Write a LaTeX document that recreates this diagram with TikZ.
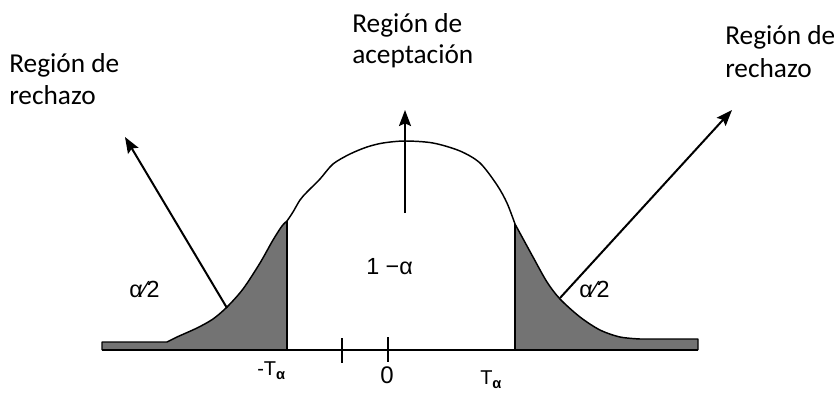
\documentclass[tikz,border=0pt]{standalone}
\usepackage{fontspec}
\setmainfont{Carlito}
\newfontfamily\arialf{Liberation Sans}
\usetikzlibrary{arrows.meta}
\begin{document}
\begin{tikzpicture}[x=0.75pt,y=-0.75pt,
  lbl/.style={font=\fontsize{20.5}{24}\selectfont, anchor=base west, inner sep=0pt},
  glbl/.style={font=\arialf\fontsize{17.5}{20}\selectfont, anchor=base west, inner sep=0pt},
  axlbl/.style={font=\arialf\fontsize{15}{17}\selectfont, anchor=base west, inner sep=0pt},
  arr/.style={line width=1.5pt, -{Stealth[length=12pt,width=9pt,inset=2pt]}},
  curveline/.style={line width=1.1pt, line join=round},
  tailfill/.style={fill=black!55},
  cutline/.style={line width=1.5pt},
]
\useasboundingbox (0,0) rectangle (834,393);
% shaded tails
\fill[tailfill] (102,350) -- (102,342) -- (167,342) -- plot[smooth] coordinates {(167,342) (177,337) (197,328) (213,319) (227,307) (243,289) (260,263) (273,240) (282,226) (287,221)} -- (287,350) -- cycle;
\fill[tailfill] (515,350) -- plot[smooth] coordinates {(515,224) (533,257) (547,282) (560,299) (580,317) (600,330) (620,337) (640,339)} -- (698,339) -- (698,350) -- cycle;
% curve
\draw[curveline] (102,350) -- (102,342) -- (167,342) -- plot[smooth] coordinates {(167,342) (177,337) (197,328) (213,319) (227,307) (243,289) (260,263) (273,240) (282,226) (287,221)};
\draw[curveline] plot[smooth] coordinates {(287,221) (293,212) (300,200) (307,192) (320,179) (333,164) (350,154) (367,147) (383,143) (405,141) (433,143) (460,151) (480,163) (497,185) (507,203) (515,224)};
\draw[curveline] plot[smooth] coordinates {(515,224) (533,257) (547,282) (560,299) (580,317) (600,330) (620,337) (640,339)} -- (698,339) -- (698,350);
% cut lines and axis
\coordinate (lc0) at (287,221); \coordinate (lc1) at (287,350);
\coordinate (rc0) at (515,224); \coordinate (rc1) at (515,350);
\coordinate (ax0) at (102,350); \coordinate (ax1) at (698,350);
\draw[cutline] (lc0) -- (lc1);
\draw[cutline] (rc0) -- (rc1);
\draw[line width=1.4pt] (ax0) -- (ax1);
% ticks
\coordinate (t1a) at (342,338); \coordinate (t1b) at (342,363);
\coordinate (t2a) at (388,337); \coordinate (t2b) at (388,362);
\draw[line width=1.4pt] (t1a) -- (t1b);
\draw[line width=1.4pt] (t2a) -- (t2b);
% arrows
\coordinate (la0) at (227,308); \coordinate (la1) at (125,137);
\coordinate (ca0) at (405,213); \coordinate (ca1) at (405,110);
\coordinate (ra0) at (560,298); \coordinate (ra1) at (732,110);
\draw[arr] (la0) -- (la1);
\draw[arr] (ca0) -- (ca1);
\draw[arr] (ra0) -- (ra1);
% texts
\node[lbl] (l1) at (9,72) {Región de};
\node[lbl] (l2) at (9,104) {rechazo};
\node[lbl] (c1) at (352,32) {Región de};
\node[lbl] (c2) at (352,63) {aceptación};
\node[lbl] (r1) at (725,44) {Región de};
\node[lbl] (r2) at (725,77) {rechazo};
\node[glbl] (ga1) at (129,297) {α⁄2};
\node[glbl] (ga2) at (579,297) {α⁄2};
\node[glbl] (g1) at (366,274) {1 −α};
\node[axlbl] (mt) at (257,375) {-T\raisebox{-3pt}{\fontsize{11}{13}\selectfont\bfseries α}};
\node[axlbl, font=\arialf\fontsize{18}{20}\selectfont, anchor=base] (z) at (387,383) {0};
\node[axlbl] (pt) at (480,384) {T\raisebox{-3pt}{\fontsize{11}{13}\selectfont\bfseries α}};
\end{tikzpicture}
\end{document}
